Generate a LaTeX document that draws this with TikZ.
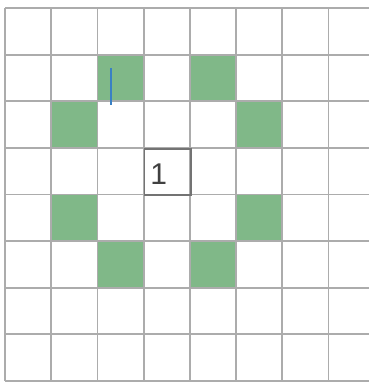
\documentclass[tikz,border=0pt]{standalone}
\usepackage{fontspec}
\usepackage{tikz}
\newfontfamily\digitfont{Liberation Sans}
\definecolor{movegreen}{RGB}{128,184,136}
\definecolor{gridgray}{RGB}{172,172,172}
\definecolor{markblue}{RGB}{58,128,196}

\begin{document}
\begin{tikzpicture}[x=1pt, y=-1pt,
  gridline/.style={draw=gridgray, line width=1.8pt},
  knightcell/.style={fill=movegreen},
  startcell/.style={draw=black!55, line width=1.8pt, minimum width=46.2pt, minimum height=46.6pt, inner sep=0pt, anchor=north west}]
\useasboundingbox (0,0) rectangle (368,383);
\fill[white] (0,0) rectangle (368,383);
% cells reached by the knight
\foreach \c/\r in {2/1,4/1,1/2,5/2,1/4,5/4,2/5,4/5}
  \fill[knightcell] ({5+46.2*\c},{8+46.6*\r}) rectangle ++(46.2,46.6);
% board lines
\foreach \i in {0,...,8}
  \draw[gridline] ({5+46.2*\i},8) -- ({5+46.2*\i},381);
\foreach \j in {0,...,8}
  \draw[gridline] (5,{8+46.6*\j}) -- (373,{8+46.6*\j});
% starting square
\node[startcell] (start) at (143.6,147.8) {};
\node[font=\digitfont\fontsize{30}{30}\selectfont, text=black!75] (one) at ([xshift=-9pt,yshift=-2pt]start.center) {1};
% blue mark
\draw[markblue, line width=2.6pt] (111,68) -- (111,105);
\end{tikzpicture}
\end{document}
